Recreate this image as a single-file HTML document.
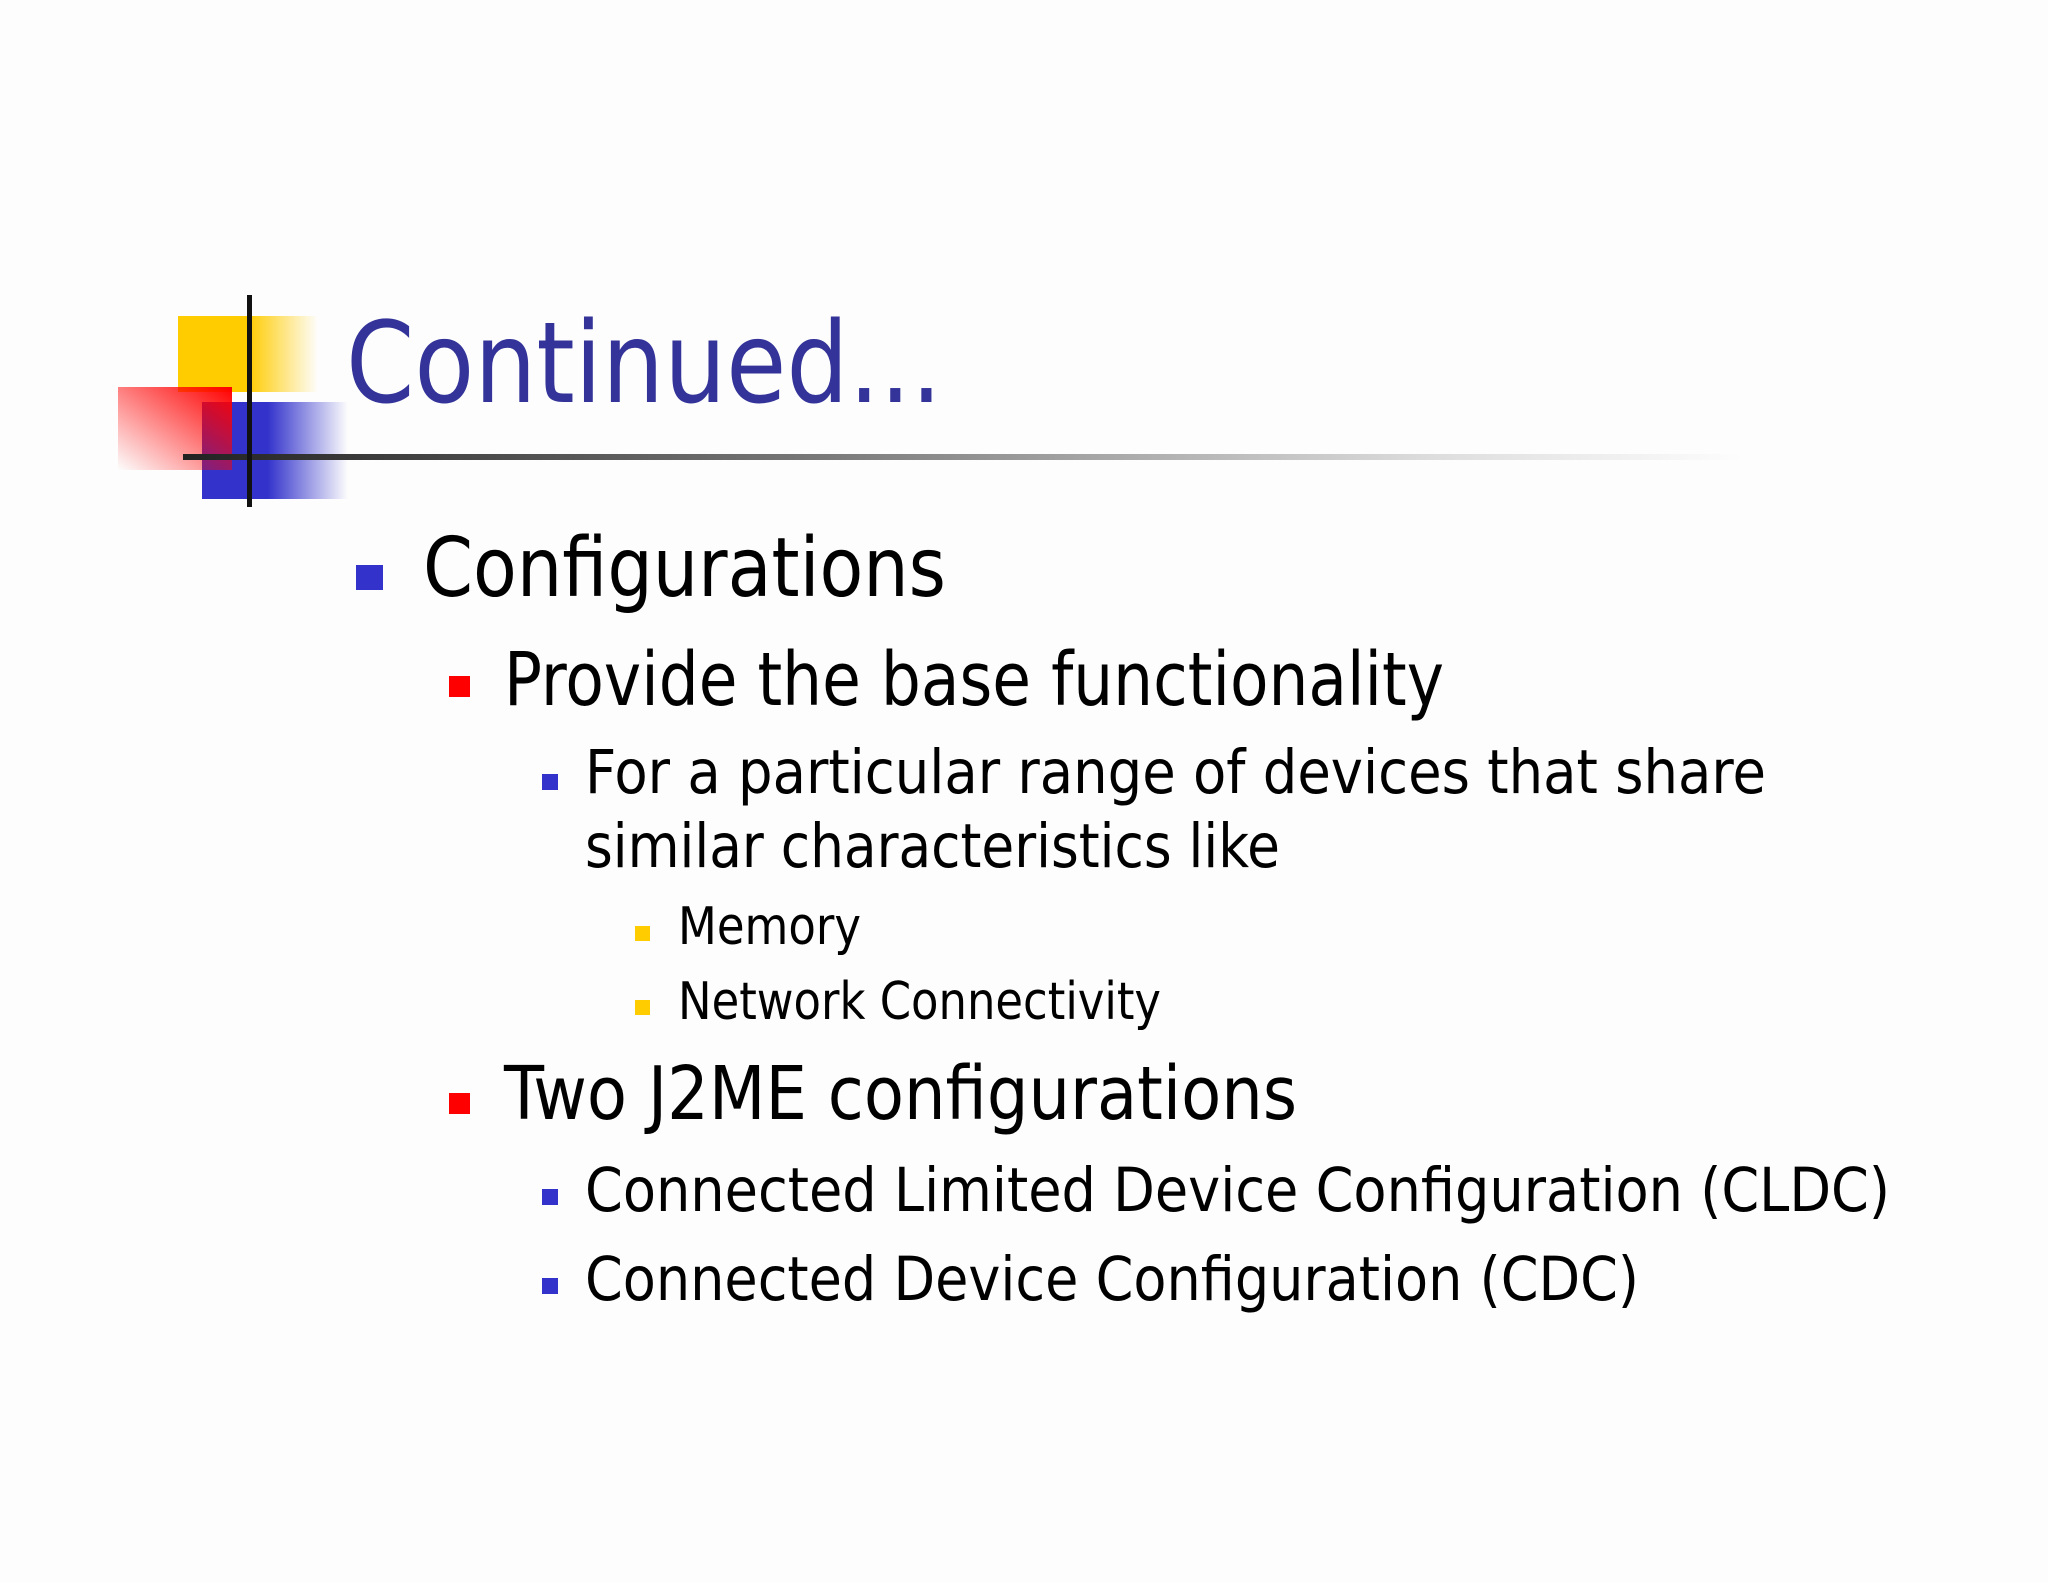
<!DOCTYPE html>
<html><head><meta charset="utf-8"><style>
html,body{margin:0;padding:0;background:#fdfdfd;}
svg{display:block;}
text{font-family:"DejaVu Sans","Liberation Sans",sans-serif;fill:#000;}
</style></head><body>
<svg width="2048" height="1582" viewBox="0 0 2048 1582" xmlns="http://www.w3.org/2000/svg">
<defs>
<linearGradient id="gy" x1="0" x2="1" y1="0" y2="0">
<stop offset="0" stop-color="#ffcc00"/><stop offset="0.5" stop-color="#ffcc00"/><stop offset="1" stop-color="#ffcc00" stop-opacity="0"/></linearGradient>
<linearGradient id="gb" x1="0" x2="1" y1="0" y2="0">
<stop offset="0" stop-color="#3333cc"/><stop offset="0.45" stop-color="#3333cc"/><stop offset="1" stop-color="#3333cc" stop-opacity="0"/></linearGradient>
<linearGradient id="gr" x1="1" x2="0" y1="0" y2="1">
<stop offset="0" stop-color="#ff0000"/><stop offset="1" stop-color="#ff0000" stop-opacity="0"/></linearGradient>
<linearGradient id="gl" x1="0" x2="1" y1="0" y2="0">
<stop offset="0" stop-color="#222"/><stop offset="0.4" stop-color="#777"/><stop offset="0.8" stop-color="#ddd"/><stop offset="1" stop-color="#fdfdfd"/></linearGradient>
</defs>
<rect x="178" y="316" width="140" height="76" fill="url(#gy)"/>
<rect x="202" y="402" width="146" height="97" fill="url(#gb)"/>
<rect x="118" y="387" width="114" height="83" fill="url(#gr)"/>
<rect x="183" y="454" width="1560" height="6" fill="url(#gl)"/>
<rect x="247" y="295" width="5" height="212" fill="#111"/>
<text x="346" y="402" font-size="112" textLength="596" lengthAdjust="spacingAndGlyphs" style="fill:#333399">Continued...</text>

<rect x="356" y="565" width="27" height="25" fill="#3333cc"/>
<text x="423" y="596" font-size="82" textLength="523" lengthAdjust="spacingAndGlyphs">Configurations</text>

<rect x="449" y="676" width="21" height="21" fill="#ff0000"/>
<text x="504" y="705" font-size="74" textLength="940" lengthAdjust="spacingAndGlyphs">Provide the base functionality</text>

<rect x="542" y="774" width="16" height="16" fill="#3333cc"/>
<text x="585" y="793" font-size="61" textLength="1181" lengthAdjust="spacingAndGlyphs">For a particular range of devices that share</text>
<text x="585" y="867" font-size="61" textLength="695" lengthAdjust="spacingAndGlyphs">similar characteristics like</text>

<rect x="635" y="926" width="15" height="15" fill="#ffcc00"/>
<text x="678" y="944" font-size="52" textLength="183" lengthAdjust="spacingAndGlyphs">Memory</text>
<rect x="635" y="1000" width="15" height="15" fill="#ffcc00"/>
<text x="678" y="1019" font-size="52" textLength="483" lengthAdjust="spacingAndGlyphs">Network Connectivity</text>

<rect x="449" y="1093" width="21" height="21" fill="#ff0000"/>
<text x="504" y="1119" font-size="74" textLength="793" lengthAdjust="spacingAndGlyphs">Two J2ME configurations</text>

<rect x="542" y="1189" width="16" height="16" fill="#3333cc"/>
<text x="585" y="1211" font-size="61" textLength="1305" lengthAdjust="spacingAndGlyphs">Connected Limited Device Configuration (CLDC)</text>
<rect x="542" y="1278" width="16" height="16" fill="#3333cc"/>
<text x="585" y="1300" font-size="61" textLength="1054" lengthAdjust="spacingAndGlyphs">Connected Device Configuration (CDC)</text>
</svg>
</body></html>
